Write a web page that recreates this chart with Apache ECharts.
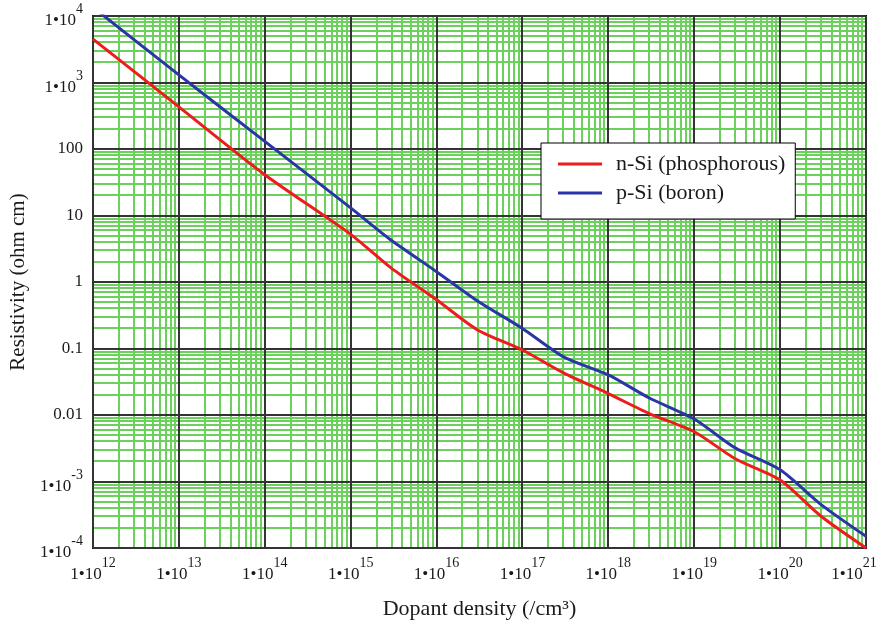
<!DOCTYPE html>
<html>
<head>
<meta charset="utf-8">
<script src="https://cdn.jsdelivr.net/npm/echarts@6/dist/echarts.min.js"></script>
<style>
  html, body { margin: 0; padding: 0; background: #fff; }
  #chart { width: 882px; height: 629px; }
</style>
</head>
<body>
<div id="chart"></div>
<script>
// dopant density (/cm3) and resistivity (ohm cm)
const dopantDensity  = [1e12, 1e13, 1e14, 1e15, 3e15, 1e16, 3e16, 1e17, 3e17, 1e18, 3e18, 1e19, 3e19, 1e20, 3e20, 1e21];
const nSiResistivity = [4500, 430, 41, 5.2, 1.6, 0.54, 0.19, 0.095, 0.043, 0.021, 0.0105, 0.0056, 0.0022, 0.00105, 0.0003, 0.0001];
const pSiResistivity = [13500, 1300, 130, 13, 4.2, 1.43, 0.52, 0.2, 0.075, 0.04, 0.018, 0.0087, 0.0032, 0.0015, 0.00045, 0.00015];

const xTickValues = [1e12, 1e13, 1e14, 1e15, 1e16, 1e17, 1e18, 1e19, 1e20, 1e21];
const xTickLabels = ['1•10^12', '1•10^13', '1•10^14', '1•10^15', '1•10^16', '1•10^17', '1•10^18', '1•10^19', '1•10^20', '1•10^21'];
const yTickValues = [1e-4, 1e-3, 0.01, 0.1, 1, 10, 100, 1e3, 1e4];
const yTickLabels = ['1•10^-4', '1•10^-3', '0.01', '0.1', '1', '10', '100', '1•10^3', '1•10^4'];
const minorSteps = [2, 3, 4, 5, 6, 7, 8, 9];

const X_MIN = xTickValues[0], X_MAX = xTickValues[xTickValues.length - 1];
const Y_MIN = yTickValues[0], Y_MAX = yTickValues[yTickValues.length - 1];

const FONT = 'Liberation Serif';
const TEXT = '#1a1a1a';
const GREEN = '#6cd05c';
const MAJOR = '#333333';

function richLabel(text, last) {
  const parts = text.split('^');
  // {h} is an invisible spacer that makes the line tall enough to lift the exponent
  return parts.length > 1
    ? '{h| }{a|' + parts[0] + '}{' + (last ? 'e' : 's') + '|' + parts[1] + '}'
    : '{p|' + text + '}';
}
function labelFor(values, labels, shiftLast) {
  return function (v) {
    const e = Math.round(Math.log10(v));
    const i = values.findIndex(t => Math.round(Math.log10(t)) === e);
    return i < 0 ? '' : richLabel(labels[i], shiftLast && i === values.length - 1);
  };
}
const rich = {
  h: { fontSize: 1, lineHeight: 27, width: 0 },
  a: { fontFamily: FONT, fontSize: 17, lineHeight: 17, color: TEXT, verticalAlign: 'bottom' },
  s: { fontFamily: FONT, fontSize: 14, lineHeight: 14, color: TEXT, verticalAlign: 'top' },
  e: { fontFamily: FONT, fontSize: 14, lineHeight: 14, color: TEXT, verticalAlign: 'top', padding: [0, 24, 0, 0] },
  p: { fontFamily: FONT, fontSize: 17, lineHeight: 17, color: TEXT }
};

// grid lines: [x, y, kind]  kind 0/1 = minor vertical/horizontal, 2/3 = decade vertical/horizontal
const gridItems = [];
xTickValues.slice(0, -1).forEach(d => minorSteps.forEach(m => gridItems.push([d * m, Y_MIN, 0])));
yTickValues.slice(0, -1).forEach(d => minorSteps.forEach(m => gridItems.push([X_MIN, d * m, 1])));
xTickValues.forEach(d => gridItems.push([d, Y_MIN, 2]));
yTickValues.forEach(d => gridItems.push([X_MIN, d, 3]));

function renderGridLine(params, api) {
  const kind = api.value(2);
  const major = kind >= 2;
  let x1, y1, x2, y2;
  if (kind % 2 === 0) {
    const a = api.coord([api.value(0), Y_MIN]), b = api.coord([api.value(0), Y_MAX]);
    x1 = x2 = Math.round(a[0]); y1 = a[1]; y2 = b[1];
  } else {
    const a = api.coord([X_MIN, api.value(1)]), b = api.coord([X_MAX, api.value(1)]);
    y1 = y2 = Math.round(a[1]); x1 = a[0]; x2 = b[0];
  }
  return {
    type: 'line', silent: true,
    shape: { x1: x1, y1: y1, x2: x2, y2: y2 },
    style: { stroke: major ? MAJOR : GREEN, lineWidth: 2 }
  };
}

const chart = echarts.init(document.getElementById('chart'));
chart.setOption({
  animation: false,
  backgroundColor: '#fff',
  grid: {
    left: 93, right: 16, top: 16, bottom: 81, outerBoundsMode: 'none',
    show: true, borderColor: '#111', borderWidth: 2, backgroundColor: 'transparent'
  },
  legend: {
    data: ['n-Si (phosphorous)', 'p-Si (boron)'],
    orient: 'vertical',
    left: 541, top: 143,
    padding: [10, 10, 15, 17],
    itemGap: 7,
    itemWidth: 44, itemHeight: 3,
    icon: 'rect',
    z: 10,
    backgroundColor: '#fff',
    borderColor: '#000', borderWidth: 1, borderRadius: 0,
    textStyle: { fontFamily: FONT, fontSize: 22, color: TEXT, padding: [0, 0, 0, 9] }
  },
  xAxis: {
    type: 'log', logBase: 10, min: X_MIN, max: X_MAX, splitNumber: 9,
    name: 'Dopant density (/cm³)', nameLocation: 'middle', nameGap: 50,
    nameTextStyle: { fontFamily: FONT, fontSize: 22, color: TEXT },
    axisLine: { show: false }, axisTick: { show: false }, splitLine: { show: false },
    axisLabel: { formatter: labelFor(xTickValues, xTickLabels, true), rich: rich, margin: 8, showMinLabel: true, showMaxLabel: true }
  },
  yAxis: {
    type: 'log', logBase: 10, min: Y_MIN, max: Y_MAX, splitNumber: 8,
    name: 'Resistivity (ohm cm)', nameLocation: 'middle', nameGap: 64,
    nameTextStyle: { fontFamily: FONT, fontSize: 21, color: TEXT },
    axisLine: { show: false }, axisTick: { show: false }, splitLine: { show: false },
    axisLabel: { formatter: labelFor(yTickValues, yTickLabels, false), rich: rich, margin: 10, showMinLabel: true, showMaxLabel: true }
  },
  series: [
    {
      name: 'grid', type: 'custom', coordinateSystem: 'cartesian2d',
      silent: true, z: 1, clip: false,
      dimensions: ['x', 'y', 'kind'], encode: { x: 0, y: 1 },
      renderItem: renderGridLine,
      data: gridItems
    },
    {
      name: 'n-Si (phosphorous)', type: 'line', z: 3,
      data: dopantDensity.map((d, i) => [d, nSiResistivity[i]]),
      showSymbol: false, symbol: 'none', smooth: 0.25,
      itemStyle: { color: '#ee1c1c' },
      lineStyle: { color: '#ee1c1c', width: 3 }
    },
    {
      name: 'p-Si (boron)', type: 'line', z: 3,
      data: dopantDensity.map((d, i) => [d, pSiResistivity[i]]),
      showSymbol: false, symbol: 'none', smooth: 0.25,
      itemStyle: { color: '#2b36a6' },
      lineStyle: { color: '#2b36a6', width: 3 }
    }
  ]
});
</script>
</body>
</html>
